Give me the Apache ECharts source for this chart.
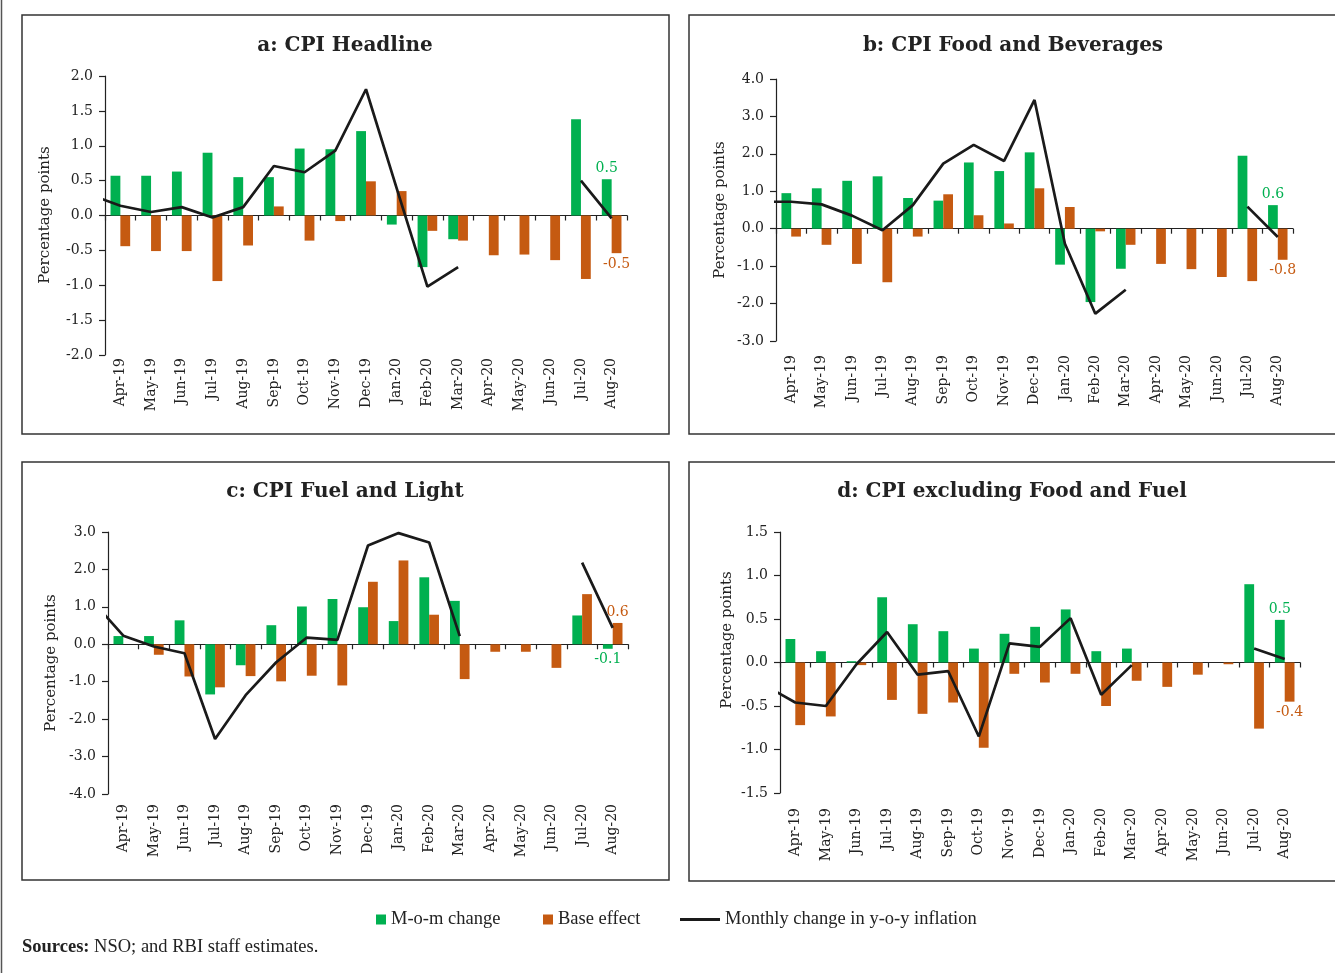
<!DOCTYPE html>
<html><head><meta charset="utf-8">
<script src="https://cdn.jsdelivr.net/npm/echarts@6/dist/echarts.min.js"></script>
<style>html,body{margin:0;padding:0;background:#fff}#c{width:1335px;height:973px}</style>
</head><body><div id="c"></div>
<script>
// ---------- DATA ----------
const categories = ['Apr-19','May-19','Jun-19','Jul-19','Aug-19','Sep-19','Oct-19','Nov-19','Dec-19','Jan-20','Feb-20','Mar-20','Apr-20','May-20','Jun-20','Jul-20','Aug-20'];
const yTicksA = [-2, 2, 0.5];
const yTicksB = [-3, 4, 1];
const yTicksC = [-4, 3, 1];
const yTicksD = [-1.5, 1.5, 0.5];

// a: CPI Headline
const momA  = [0.57,0.57,0.63,0.90,0.55,0.55,0.96,0.95,1.21,-0.13,-0.74,-0.34,null,null,null,1.38,0.52];
const baseA = [-0.44,-0.51,-0.51,-0.94,-0.43,0.13,-0.36,-0.08,0.49,0.35,-0.22,-0.36,-0.57,-0.56,-0.64,-0.91,-0.54];
const yoyA  = [0.14,0.05,0.12,-0.03,0.12,0.71,0.62,0.93,1.81,0.39,-1.02,-0.74,null,null,null,0.50,-0.04];
const yoyPrevA = 0.30; // Mar-19, clipped at axis edge

// b: CPI Food and Beverages
const momB  = [0.95,1.08,1.28,1.40,0.82,0.75,1.77,1.54,2.04,-0.96,-1.96,-1.07,null,null,null,1.95,0.63];
const baseB = [-0.21,-0.43,-0.94,-1.43,-0.21,0.92,0.36,0.14,1.08,0.58,-0.07,-0.43,-0.94,-1.08,-1.29,-1.40,-0.83];
const yoyB  = [0.72,0.65,0.35,-0.04,0.63,1.74,2.24,1.81,3.44,-0.40,-2.27,-1.63,null,null,null,0.59,-0.22];
const yoyPrevB = 0.72;

// c: CPI Fuel and Light
const momC  = [0.22,0.22,0.64,-1.34,-0.56,0.51,1.01,1.21,0.99,0.62,1.79,1.16,null,null,null,0.77,-0.12];
const baseC = [0,-0.28,-0.86,-1.15,-0.85,-0.99,-0.84,-1.10,1.67,2.24,0.79,-0.93,-0.20,-0.20,-0.63,1.34,0.57];
const yoyC  = [0.23,-0.06,-0.24,-2.53,-1.36,-0.48,0.18,0.12,2.64,2.97,2.72,0.22,null,null,null,2.18,0.44];
const yoyPrevC = 1.15;

// d: CPI excluding Food and Fuel
const momD  = [0.27,0.13,0.015,0.75,0.44,0.36,0.16,0.33,0.41,0.61,0.13,0.16,null,null,null,0.90,0.49];
const baseD = [-0.72,-0.62,-0.03,-0.43,-0.59,-0.46,-0.98,-0.13,-0.23,-0.13,-0.50,-0.21,-0.28,-0.14,-0.02,-0.76,-0.45];
const yoyD  = [-0.46,-0.50,-0.02,0.35,-0.14,-0.10,-0.85,0.22,0.18,0.51,-0.37,-0.03,null,null,null,0.16,0.04];
const yoyPrevD = -0.26;

const titles = ['a: CPI Headline','b: CPI Food and Beverages','c: CPI Fuel and Light','d: CPI excluding Food and Fuel'];
const seriesNames = ['M-o-m change','Base effect','Monthly change in y-o-y inflation'];
const yName = 'Percentage points';

// ---------- LAYOUT ----------
const GREEN = '#00B050', ORANGE = '#C55A11', BLACK = '#1a1a1a', TXT = '#222';
const SERIF = 'DejaVu Serif';
const panels = [
  {mom:momA, base:baseA, yoy:yoyA, prev:yoyPrevA, ticks:yTicksA, grid:{left:105,top:76,width:522,height:279}, box:[22,15,647,419], tx:345, ty:46, nx:45, ny:215, lm:3},
  {mom:momB, base:baseB, yoy:yoyB, prev:yoyPrevB, ticks:yTicksB, grid:{left:776,top:79,width:517,height:262}, box:[689,15,660,419], tx:1013, ty:46, nx:720, ny:210, lm:14},
  {mom:momC, base:baseC, yoy:yoyC, prev:yoyPrevC, ticks:yTicksC, grid:{left:108,top:532,width:520,height:262}, box:[22,462,647,418], tx:345, ty:492, nx:51, ny:663, lm:10},
  {mom:momD, base:baseD, yoy:yoyD, prev:yoyPrevD, ticks:yTicksD, grid:{left:780,top:532,width:520,height:261}, box:[689,462,660,419], tx:1012, ty:492, nx:727, ny:640, lm:15}
];

const fmt1 = v => (Math.round(v * 10) / 10).toFixed(1);

const grids = [], xAxes = [], yAxes = [], series = [], graphics = [];
graphics.push({type:'line', shape:{x1:1.5,y1:0,x2:1.5,y2:973}, style:{stroke:'#555', lineWidth:1.5}, silent:true});

panels.forEach((p, k) => {
  grids.push(Object.assign({containLabel:false}, p.grid));
  // zero-line category axis
  xAxes.push({type:'category', gridIndex:k, data:categories, position:'bottom',
    axisLine:{show:true, onZero:true, lineStyle:{color:TXT, width:1.2}},
    axisTick:{show:true, length:5, interval:0, lineStyle:{color:TXT, width:1.2}},
    axisLabel:{show:false}, splitLine:{show:false}});
  // label axis at bottom
  xAxes.push({type:'category', gridIndex:k, data:categories, position:'bottom',
    axisLine:{show:false, onZero:false}, axisTick:{show:false},
    axisLabel:{show:true, interval:0, rotate:90, margin:p.lm, fontFamily:SERIF, fontSize:14, color:TXT},
    splitLine:{show:false}});
  // hidden value axis for the line
  xAxes.push({type:'value', gridIndex:k, min:-0.5, max:categories.length - 0.5, show:false, position:'top',
    axisLine:{onZero:false}, splitLine:{show:false}});
  yAxes.push({type:'value', gridIndex:k, min:p.ticks[0], max:p.ticks[1], interval:p.ticks[2], position:'left',
    axisLine:{show:true, onZero:false, lineStyle:{color:TXT, width:1.2}},
    axisTick:{show:true, length:6, lineStyle:{color:TXT, width:1.2}},
    axisLabel:{formatter:v => v.toFixed(1), fontFamily:SERIF, fontSize:14, color:TXT, margin:12},
    splitLine:{show:false}});

  const last = categories.length - 1;
  const barData = (arr, color) => arr.map((v, i) => {
    if (v === null) return '-';
    if (i === last) return {value:v, label:{show:true, position: v >= 0 ? 'top' : 'bottom', distance:4,
      color:color, fontFamily:SERIF, fontSize:14, formatter: pr => fmt1(pr.value)}};
    return v;
  });
  series.push({type:'bar', name:seriesNames[0], xAxisIndex:3*k, yAxisIndex:k, data:barData(p.mom, GREEN),
    itemStyle:{color:GREEN}, barGap:'0%', barCategoryGap:'36%', animation:false});
  series.push({type:'bar', name:seriesNames[1], xAxisIndex:3*k, yAxisIndex:k, data:barData(p.base, ORANGE),
    itemStyle:{color:ORANGE}, barGap:'0%', barCategoryGap:'36%', animation:false});
  const lineData = [[-1, p.prev]].concat(p.yoy.map((v, i) => {
    if (v === null) return [i, '-'];
    if (i === last) return {value:[i, v], label:{show:true, position:'right', distance:3, color:TXT,
      fontFamily:SERIF, fontSize:14, formatter: pr => fmt1(pr.value[1])}};
    return [i, v];
  }));
  series.push({type:'line', name:seriesNames[2], xAxisIndex:3*k+2, yAxisIndex:k, data:lineData,
    symbol:'none', showSymbol:false, connectNulls:false, clip:true, color:BLACK,
    lineStyle:{color:BLACK, width:2.7}, z:5, animation:false});

  graphics.push({type:'rect', shape:{x:p.box[0], y:p.box[1], width:p.box[2], height:p.box[3]},
    style:{fill:'none', stroke:'#333', lineWidth:1.5}, silent:true, z:-1});
  graphics.push({type:'text', x:p.tx, y:p.ty, style:{text:titles[k], font:'bold 20px "DejaVu Serif"', fill:TXT,
    textAlign:'center', textVerticalAlign:'middle'}});
  graphics.push({type:'text', x:p.nx, y:p.ny, rotation:Math.PI/2, style:{text:yName, font:'15px "DejaVu Serif"', fill:TXT,
    textAlign:'center', textVerticalAlign:'middle'}});
});

graphics.push({type:'text', x:22, y:947, style:{
  text:'{b|Sources:} NSO; and RBI staff estimates.',
  rich:{b:{fontWeight:'bold', fontFamily:'Liberation Serif', fontSize:18.5, fill:TXT}},
  fontFamily:'Liberation Serif', fontSize:18.5, fill:TXT, textVerticalAlign:'middle'}});

const legTxt = {fontFamily:'Liberation Serif', fontSize:18.5, color:TXT};
const option = {
  animation:false,
  backgroundColor:'#fff',
  grid:grids, xAxis:xAxes, yAxis:yAxes, series:series,
  legend:[
    {data:[seriesNames[0]], left:371, top:905, icon:'rect', itemWidth:10, itemHeight:10, textStyle:legTxt, selectedMode:false},
    {data:[seriesNames[1]], left:538, top:905, icon:'rect', itemWidth:10, itemHeight:10, textStyle:legTxt, selectedMode:false},
    {data:[seriesNames[2]], left:675, top:905, icon:'rect', itemWidth:40, itemHeight:3, textStyle:legTxt, selectedMode:false}
  ],
  graphic:graphics
};
const chart = echarts.init(document.getElementById('c'), null, {renderer:'canvas'});
chart.setOption(option);
</script></body></html>
